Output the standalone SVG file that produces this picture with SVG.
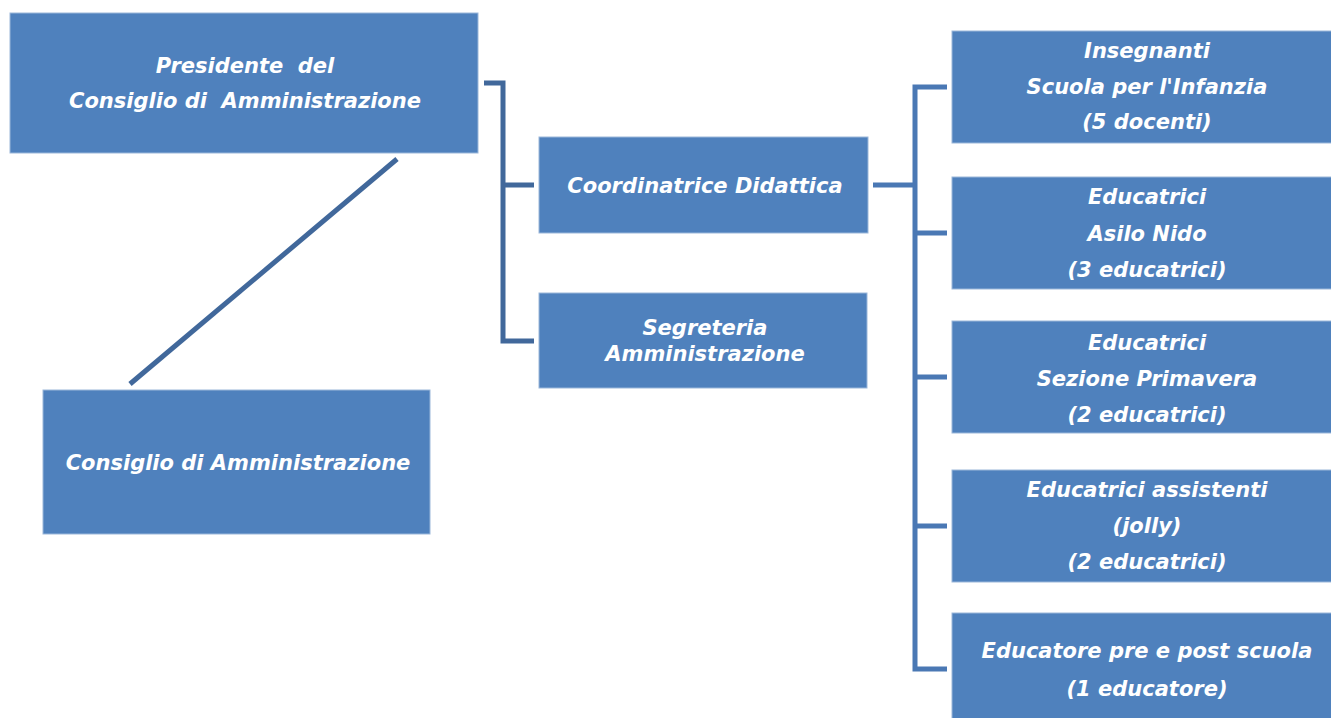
<svg xmlns="http://www.w3.org/2000/svg" width="1331" height="718" viewBox="0 0 1331 718">
<style>
.box{fill:#4F81BD;stroke:#9BB7DA;stroke-width:1}
.t{font-family:"DejaVu Sans","Verdana",sans-serif;font-weight:bold;font-style:italic;font-size:21px;fill:#FFFFFF;text-anchor:middle;white-space:pre}
.c1{fill:none;stroke:#41689B;stroke-width:5}
.c2{fill:none;stroke:#4A78B4;stroke-width:5}
</style>
<rect width="1331" height="718" fill="#FFFFFF"/>
<g id="connectors">
<line class="c1" x1="397" y1="159" x2="130" y2="384"/>
<path class="c1" d="M484,83 H503 V341 H534 M503,185 H534"/>
<path class="c2" d="M873,185 H915 M947,87 H915 V669 H947 M915,233 H947 M915,377 H947 M915,526 H947"/>
</g>
<g id="presidente">
<rect class="box" x="10" y="13" width="468" height="140"/>
<text class="t" x="245" y="73" xml:space="preserve">Presidente  del</text>
<text class="t" x="245" y="108" xml:space="preserve">Consiglio di  Amministrazione</text>
</g>
<g id="consiglio">
<rect class="box" x="43" y="390" width="387" height="144"/>
<text class="t" x="238" y="470">Consiglio di Amministrazione</text>
</g>
<g id="coordinatrice">
<rect class="box" x="539" y="137" width="329" height="96"/>
<text class="t" x="705" y="193">Coordinatrice Didattica</text>
</g>
<g id="segreteria">
<rect class="box" x="539" y="293" width="328" height="95"/>
<text class="t" x="705" y="335">Segreteria</text>
<text class="t" x="705" y="361">Amministrazione</text>
</g>
<g id="insegnanti">
<rect class="box" x="952" y="31" width="384" height="112"/>
<text class="t" x="1147" y="58">Insegnanti</text>
<text class="t" x="1147" y="94">Scuola per l'Infanzia</text>
<text class="t" x="1147" y="129">(5 docenti)</text>
</g>
<g id="asilo">
<rect class="box" x="952" y="177" width="384" height="112"/>
<text class="t" x="1147" y="204">Educatrici</text>
<text class="t" x="1147" y="241">Asilo Nido</text>
<text class="t" x="1147" y="277">(3 educatrici)</text>
</g>
<g id="primavera">
<rect class="box" x="952" y="321" width="384" height="112"/>
<text class="t" x="1147" y="350">Educatrici</text>
<text class="t" x="1147" y="386">Sezione Primavera</text>
<text class="t" x="1147" y="422">(2 educatrici)</text>
</g>
<g id="jolly">
<rect class="box" x="952" y="470" width="384" height="112"/>
<text class="t" x="1147" y="497">Educatrici assistenti</text>
<text class="t" x="1147" y="533">(jolly)</text>
<text class="t" x="1147" y="569">(2 educatrici)</text>
</g>
<g id="prepost">
<rect class="box" x="952" y="613" width="384" height="110"/>
<text class="t" x="1147" y="658">Educatore pre e post scuola</text>
<text class="t" x="1147" y="696">(1 educatore)</text>
</g>
</svg>
